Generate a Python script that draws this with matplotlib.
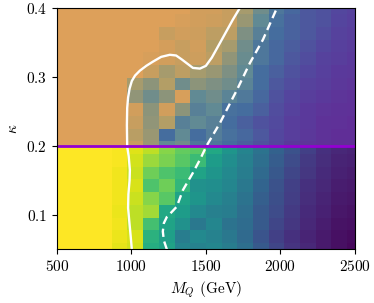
import numpy as np
import matplotlib
matplotlib.use("Agg")
import matplotlib.pyplot as plt
from matplotlib.colors import LinearSegmentedColormap

plt.rcParams["font.family"] = "serif"
plt.rcParams["font.serif"] = ["cmr10"]
plt.rcParams["mathtext.fontset"] = "cm"
plt.rcParams["axes.formatter.use_mathtext"] = True
plt.rcParams["font.size"] = 11

# grid of the scan
mass = np.linspace(500, 2500, 20)
kappa = np.linspace(0.05, 0.4, 20)

# lower part (kappa < 0.2), viridis value, rows from kappa=0.05 upward
z_low = [
    [1, 1, 1, 1, 0.96, 0.93, 0.62, 0.58, 0.45, 0.44, 0.46, 0.42, 0.36, 0.28, 0.21, 0.15, 0.11, 0.07, 0.04, 0.02],
    [1, 1, 1, 1, 0.97, 0.94, 0.64, 0.56, 0.42, 0.47, 0.44, 0.40, 0.34, 0.26, 0.19, 0.14, 0.10, 0.07, 0.04, 0.03],
    [1, 1, 1, 1, 0.98, 0.90, 0.70, 0.58, 0.50, 0.40, 0.46, 0.38, 0.35, 0.28, 0.21, 0.16, 0.11, 0.08, 0.05, 0.04],
    [1, 1, 1, 1, 0.97, 0.90, 0.86, 0.60, 0.55, 0.47, 0.43, 0.42, 0.36, 0.28, 0.23, 0.17, 0.12, 0.09, 0.06, 0.05],
    [1, 1, 1, 1, 0.98, 0.92, 0.82, 0.74, 0.58, 0.52, 0.47, 0.43, 0.38, 0.30, 0.24, 0.18, 0.13, 0.10, 0.07, 0.06],
    [1, 1, 1, 1, 0.98, 0.94, 0.72, 0.78, 0.66, 0.50, 0.49, 0.46, 0.40, 0.32, 0.25, 0.19, 0.14, 0.11, 0.08, 0.07],
    [1, 1, 1, 1, 0.98, 0.92, 0.78, 0.72, 0.68, 0.58, 0.52, 0.47, 0.42, 0.34, 0.27, 0.21, 0.16, 0.12, 0.09, 0.08],
    [1, 1, 1, 1, 0.99, 0.93, 0.85, 0.80, 0.74, 0.68, 0.55, 0.49, 0.43, 0.36, 0.29, 0.23, 0.17, 0.13, 0.10, 0.09],
    [1, 1, 1, 1, 0.99, 0.95, 0.90, 0.82, 0.76, 0.74, 0.60, 0.52, 0.45, 0.38, 0.31, 0.25, 0.19, 0.14, 0.11, 0.10],
]

# upper part (kappa > 0.2), 0 = purple, 1 = orange
z_up = [
    [1, 1, 1, 1, 1, 0.85, 0.65, 0.45, 0.50, 0.35, 0.35, 0.30, 0.25, 0.20, 0.15, 0.10, 0.08, 0.06, 0.05, 0.05],
    [1, 1, 1, 1, 1, 0.78, 0.65, 0.30, 0.45, 0.30, 0.38, 0.32, 0.28, 0.22, 0.16, 0.12, 0.09, 0.07, 0.05, 0.05],
    [1, 1, 1, 1, 1, 0.85, 0.62, 0.75, 0.40, 0.45, 0.40, 0.30, 0.25, 0.20, 0.17, 0.12, 0.10, 0.07, 0.06, 0.05],
    [1, 1, 1, 1, 1, 0.90, 0.60, 0.90, 0.60, 0.40, 0.45, 0.32, 0.30, 0.25, 0.18, 0.14, 0.10, 0.08, 0.07, 0.06],
    [1, 1, 1, 1, 1, 0.62, 0.50, 0.60, 0.95, 0.45, 0.50, 0.42, 0.36, 0.28, 0.20, 0.15, 0.12, 0.10, 0.08, 0.07],
    [1, 1, 1, 1, 1, 0.70, 0.60, 0.75, 0.50, 0.60, 0.55, 0.50, 0.42, 0.30, 0.22, 0.18, 0.14, 0.12, 0.09, 0.08],
    [1, 1, 1, 1, 1, 1, 0.85, 0.70, 0.80, 0.70, 0.65, 0.55, 0.45, 0.30, 0.25, 0.20, 0.16, 0.13, 0.10, 0.09],
    [1, 1, 1, 1, 1, 1, 0.95, 0.90, 0.85, 0.88, 0.80, 0.62, 0.48, 0.35, 0.28, 0.22, 0.18, 0.14, 0.12, 0.10],
    [1, 1, 1, 1, 1, 1, 1, 0.92, 0.85, 0.90, 0.75, 0.70, 0.50, 0.35, 0.28, 0.24, 0.20, 0.16, 0.13, 0.11],
    [1, 1, 1, 1, 1, 1, 1, 0.85, 0.90, 0.88, 0.80, 0.80, 0.55, 0.40, 0.30, 0.26, 0.22, 0.18, 0.14, 0.12],
    [1, 1, 1, 1, 1, 1, 1, 1, 0.95, 0.90, 0.88, 0.85, 0.65, 0.45, 0.32, 0.26, 0.22, 0.20, 0.15, 0.13],
    [1, 1, 1, 1, 1, 1, 1, 1, 1, 0.90, 0.90, 0.85, 0.70, 0.50, 0.35, 0.28, 0.22, 0.20, 0.16, 0.14],
]

# contours
solid_m = [1003, 995, 985, 978, 980, 988, 990, 982, 972, 970, 972, 978, 988, 1003, 1025, 1057,
           1100, 1144, 1200, 1258, 1300, 1340, 1413, 1460, 1500, 1540, 1594, 1681, 1728]
solid_k = [0.05, 0.07, 0.093, 0.11, 0.13, 0.15, 0.165, 0.185, 0.199, 0.23, 0.255, 0.27, 0.283, 0.294, 0.302, 0.309,
           0.316, 0.322, 0.329, 0.332, 0.331, 0.325, 0.313, 0.312, 0.316, 0.328, 0.349, 0.383, 0.40]
dash_m = [1238, 1218, 1211, 1218, 1238, 1270, 1305, 1346, 1413, 1460, 1507, 1594, 1708, 1795, 1883, 1977]
dash_k = [0.05, 0.063, 0.076, 0.088, 0.097, 0.104, 0.112, 0.136, 0.161, 0.180, 0.201, 0.233, 0.281, 0.320, 0.354, 0.40]

kappa_cut = 0.2

mid_m = (mass[:-1] + mass[1:]) / 2
mid_k = (kappa[:-1] + kappa[1:]) / 2
m_edges = np.concatenate([[mass[0]], mid_m, [mass[-1]]])
k_low = np.concatenate([[kappa[0]], mid_k[:8], [kappa_cut]])
k_up = np.concatenate([[kappa_cut], mid_k[8:], [kappa[-1]]])

upper_cmap = LinearSegmentedColormap.from_list("upper", [
    (0.00, (0.40, 0.14, 0.58)),
    (0.15, (0.33, 0.27, 0.62)),
    (0.30, (0.27, 0.43, 0.62)),
    (0.45, (0.38, 0.54, 0.58)),
    (0.60, (0.55, 0.58, 0.48)),
    (0.75, (0.70, 0.62, 0.40)),
    (0.90, (0.82, 0.62, 0.36)),
    (1.00, (0.865, 0.627, 0.353)),
])

fig, ax = plt.subplots(figsize=(3.74, 3.03), dpi=100)
fig.subplots_adjust(left=0.152, right=0.949, top=0.974, bottom=0.177)

ax.pcolormesh(m_edges, k_low, np.array(z_low), cmap="viridis", vmin=0, vmax=1,
              shading="flat", antialiased=False, linewidth=0)
ax.pcolormesh(m_edges, k_up, np.array(z_up), cmap=upper_cmap, vmin=0, vmax=1,
              shading="flat", antialiased=False, linewidth=0)

ax.plot(solid_m, solid_k, color="white", lw=1.7)
ax.plot(dash_m, dash_k, color="white", lw=1.7, ls=(0, (3.5, 2)))
ax.axhline(kappa_cut, color="#9400d3", lw=2)

ax.set_xlim(500, 2500)
ax.set_ylim(0.05, 0.4)
ax.set_xticks([500, 1000, 1500, 2000, 2500])
ax.set_yticks([0.1, 0.2, 0.3, 0.4])
ax.set_xlabel(r"$M_Q$ (GeV)")
ax.set_ylabel(r"$\kappa$")

fig.savefig("out.png", dpi=100)
